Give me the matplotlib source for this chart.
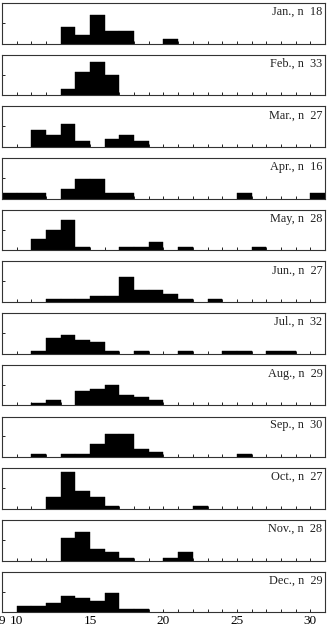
import numpy as np
import matplotlib
matplotlib.use('Agg')
import matplotlib.pyplot as plt

# monthly histograms (percent of cases in each 1-unit bin, bin left edge)
months = ['Jan.', 'Feb.', 'Mar.', 'Apr.', 'May', 'Jun.',
          'Jul.', 'Aug.', 'Sep.', 'Oct.', 'Nov.', 'Dec.']
n_obs = [18, 33, 27, 16, 28, 27, 32, 29, 30, 27, 28, 29]

jan = {13: 20, 14: 10, 15: 35, 16: 15, 17: 15, 20: 5}
feb = {13: 8, 14: 28, 15: 40, 16: 24}
mar = {11: 21, 12: 14, 13: 28, 14: 7, 16: 10, 17: 14, 18: 7}
apr = {9: 6.5, 10: 6.5, 11: 6.5, 13: 12, 14: 24, 15: 24, 16: 6.5, 17: 6.5, 25: 6.5, 30: 6.5}
may = {11: 14, 12: 24, 13: 37, 14: 3.6, 17: 3.6, 18: 3.6, 19: 10, 21: 3.6, 26: 3.6}
jun = {12: 3.7, 13: 3.7, 14: 3.7, 15: 7, 16: 7, 17: 30, 18: 14, 19: 14, 20: 10, 21: 3.7, 23: 3.7}
jul = {11: 3.1, 12: 19, 13: 23, 14: 17, 15: 14, 16: 3.1, 18: 3.1, 21: 3.1,
       24: 3.1, 25: 3.1, 27: 3.1, 28: 3.1}
aug = {11: 3.4, 12: 7, 14: 17, 15: 20, 16: 25, 17: 13, 18: 10, 19: 7}
sep = {11: 3.7, 13: 3.7, 14: 3.7, 15: 16, 16: 28, 17: 28, 18: 10, 19: 6, 25: 3.7}
oct_ = {12: 14, 13: 45, 14: 22, 15: 14, 16: 3.7, 22: 3.7}
nov = {13: 27, 14: 34, 15: 14, 16: 10, 17: 3.6, 20: 3.6, 21: 10}
dec = {10: 7, 11: 7, 12: 11, 13: 20, 14: 17, 15: 14, 16: 23, 17: 4, 18: 4}

data = [jan, feb, mar, apr, may, jun, jul, aug, sep, oct_, nov, dec]

plt.rcParams['font.family'] = ['Liberation Serif', 'DejaVu Serif']

W, H = 329, 626
fig = plt.figure(figsize=(W / 100, H / 100), dpi=100)

left, right = 2, 325
top0, step, ph = 3, 51.7, 40.5

for i, (m, n, d) in enumerate(zip(months, n_obs, data)):
    top = top0 + i * step
    ax = fig.add_axes([left / W, 1 - (top + ph) / H, (right - left) / W, ph / H])
    xs = np.array(list(d.keys()))
    hs = np.array(list(d.values()))
    ax.bar(xs, hs, width=1.0, align='edge', color='black', edgecolor='black', linewidth=0.3)
    ax.set_xlim(9, 31)
    ax.set_ylim(0, 49)
    ax.set_yticks([25])
    ax.set_yticklabels([])
    ax.set_xticks(np.arange(9, 32))
    ax.tick_params(axis='both', direction='in', length=2.5, width=0.6, colors='black')
    if i == len(months) - 1:
        ax.set_xticks([9, 10, 15, 20, 25, 30])
        ax.set_xticks(np.arange(9, 32), minor=True)
        ax.tick_params(axis='x', which='both', direction='in', length=2.5, width=0.6, labelsize=9.5, pad=2)
        ax.set_xticklabels(['9', '10', '15', '20', '25', '30'])
    else:
        ax.set_xticklabels([])
    for s in ax.spines.values():
        s.set_linewidth(0.8)
        s.set_color('#333333')
    ax.text(0.992, 0.93, f'{m}, n  {n}', transform=ax.transAxes,
            ha='right', va='top', fontsize=8.8, color='#222222')

fig.savefig('out.png', dpi=100)
